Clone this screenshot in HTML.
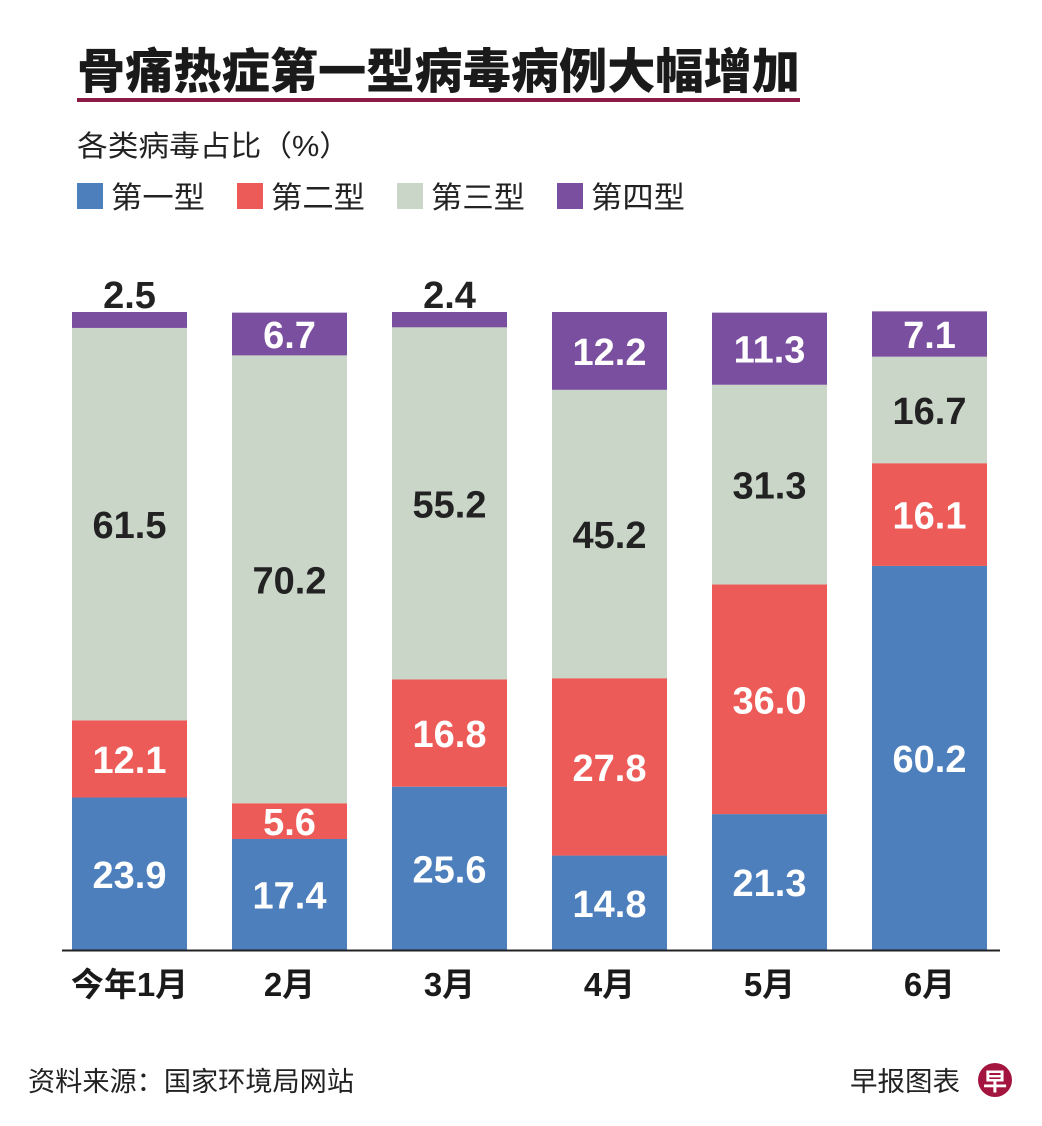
<!DOCTYPE html>
<html><head><meta charset="utf-8"><style>
body{margin:0;background:#fff;width:1042px;height:1126px;overflow:hidden}
svg{display:block;font-family:"Liberation Sans","Noto Sans CJK SC",sans-serif}
</style></head><body>
<svg id="chart" width="1042" height="1126">
<text x="77" y="88" font-size="48" font-weight="900" fill="#1a1a1a" textLength="723" lengthAdjust="spacingAndGlyphs">骨痛热症第一型病毒病例大幅增加</text>
<rect x="77" y="98" width="723" height="4" fill="#8b1a45"/>
<text x="77" y="156" font-size="29" fill="#222" textLength="273" lengthAdjust="spacingAndGlyphs">各类病毒占比（%）</text>
<g id="legend"></g>
<g id="bars"></g>
<line x1="62" y1="950.5" x2="1000" y2="950.5" stroke="#222" stroke-width="2"/>
<g id="xlabels"></g>
<text x="28" y="1091" font-size="27" fill="#222" textLength="326" lengthAdjust="spacingAndGlyphs">资料来源：国家环境局网站</text>
<text x="850" y="1091" font-size="27" fill="#222" textLength="110" lengthAdjust="spacingAndGlyphs">早报图表</text>
<circle cx="995" cy="1080" r="17" fill="#a3143f"/>
<text x="995" y="1090" font-size="24" font-weight="bold" fill="#fff" text-anchor="middle">早</text>
</svg>
<script>
const categories=["今年1月","2月","3月","4月","5月","6月"];
const seriesNames=["第一型","第二型","第三型","第四型"];
const type1=[23.9,17.4,25.6,14.8,21.3,60.2];
const type2=[12.1,5.6,16.8,27.8,36.0,16.1];
const type3=[61.5,70.2,55.2,45.2,31.3,16.7];
const type4=[2.5,6.7,2.4,12.2,11.3,7.1];
const colors=["#4d7fbd","#ec5b58","#c9d6c8","#7a4f9f"];
const textColors=["#fff","#fff","#222","#fff"];
const NS="http://www.w3.org/2000/svg";
const baseY=950,plotH=638,x0=72,step=160,bw=115;
const y=v=>plotH*v/100;
const xb=i=>x0+i*step;
function mk(t,a){const e=document.createElementNS(NS,t);for(const k in a)e.setAttribute(k,a[k]);return e;}
const lg=document.getElementById('legend');
seriesNames.forEach((n,i)=>{
  const r=mk('rect',{x:77+i*160,y:183,width:26,height:26,fill:colors[i]});
  
  
  lg.appendChild(r);
  const t=mk('text',{x:111+i*160,y:208,'font-size':30,fill:'#222',textLength:94,lengthAdjust:'spacingAndGlyphs'});
  t.textContent=n;
  
  
  lg.appendChild(t);
});
const bars=document.getElementById('bars');
const all=[type1,type2,type3,type4];
categories.forEach((c,i)=>{
  let cum=0;
  all.forEach((s,j)=>{
    const v=s[i];const h=y(v);const top=baseY-y(cum)-h;
    const r=mk('rect',{x:xb(i),y:top,width:bw,height:h,fill:colors[j]});
    
    
    bars.appendChild(r);
    const small=h<25;
    const ty=small?top-4:top+h/2+14;
    const t=mk('text',{x:xb(i)+bw/2,y:ty,'font-size':38,'font-weight':'bold','text-anchor':'middle',fill:small?'#222':textColors[j]});
    t.textContent=v.toFixed(1);
    
    
    bars.appendChild(t);
    cum+=v;
  });
  const xl=mk('text',{x:xb(i)+bw/2,y:996,'font-size':33,'font-weight':'bold','text-anchor':'middle',fill:'#1a1a1a'});
  xl.textContent=c;
  
  
  document.getElementById('xlabels').appendChild(xl);
});
</script>
</body></html>
